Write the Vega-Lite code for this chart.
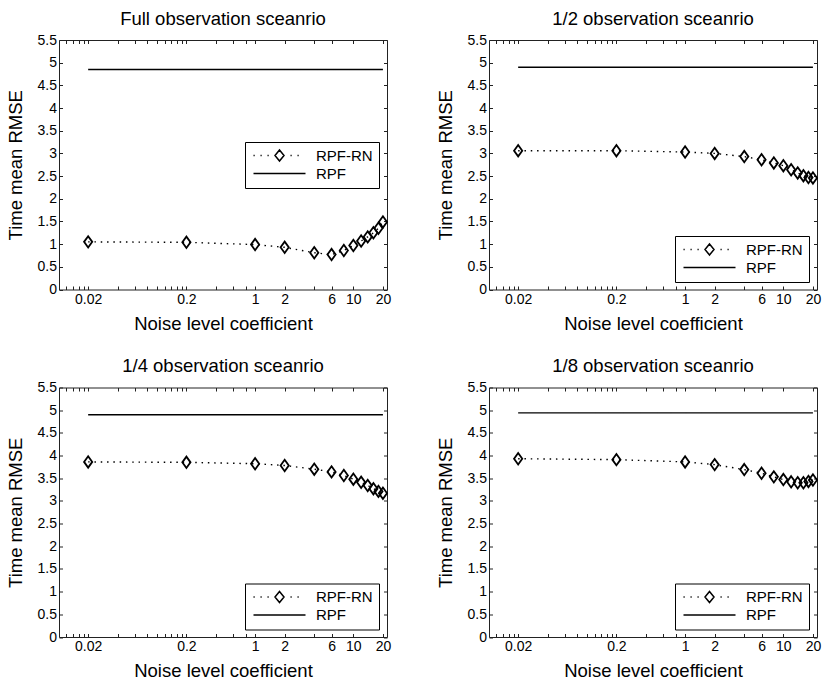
{
  "$schema": "https://vega.github.io/schema/vega-lite/v6.json",
  "background": "white",
  "padding": {"left": 5, "top": 9, "right": 5, "bottom": 5},
  "datasets": {
    "full": [
      {"x": 0.02, "rmse": 1.05, "series": "RPF-RN"},
      {"x": 0.2, "rmse": 1.04, "series": "RPF-RN"},
      {"x": 1, "rmse": 0.99, "series": "RPF-RN"},
      {"x": 2, "rmse": 0.93, "series": "RPF-RN"},
      {"x": 4, "rmse": 0.81, "series": "RPF-RN"},
      {"x": 6, "rmse": 0.77, "series": "RPF-RN"},
      {"x": 8, "rmse": 0.86, "series": "RPF-RN"},
      {"x": 10, "rmse": 0.97, "series": "RPF-RN"},
      {"x": 12, "rmse": 1.07, "series": "RPF-RN"},
      {"x": 14, "rmse": 1.16, "series": "RPF-RN"},
      {"x": 16, "rmse": 1.25, "series": "RPF-RN"},
      {"x": 18, "rmse": 1.35, "series": "RPF-RN"},
      {"x": 20, "rmse": 1.49, "series": "RPF-RN"},
      {"x": 0.02, "rmse": 4.85, "series": "RPF"},
      {"x": 20, "rmse": 4.85, "series": "RPF"}
    ],
    "half": [
      {"x": 0.02, "rmse": 3.06, "series": "RPF-RN"},
      {"x": 0.2, "rmse": 3.06, "series": "RPF-RN"},
      {"x": 1, "rmse": 3.03, "series": "RPF-RN"},
      {"x": 2, "rmse": 3.0, "series": "RPF-RN"},
      {"x": 4, "rmse": 2.93, "series": "RPF-RN"},
      {"x": 6, "rmse": 2.86, "series": "RPF-RN"},
      {"x": 8, "rmse": 2.79, "series": "RPF-RN"},
      {"x": 10, "rmse": 2.73, "series": "RPF-RN"},
      {"x": 12, "rmse": 2.64, "series": "RPF-RN"},
      {"x": 14, "rmse": 2.57, "series": "RPF-RN"},
      {"x": 16, "rmse": 2.51, "series": "RPF-RN"},
      {"x": 18, "rmse": 2.47, "series": "RPF-RN"},
      {"x": 20, "rmse": 2.46, "series": "RPF-RN"},
      {"x": 0.02, "rmse": 4.9, "series": "RPF"},
      {"x": 20, "rmse": 4.9, "series": "RPF"}
    ],
    "quarter": [
      {"x": 0.02, "rmse": 3.86, "series": "RPF-RN"},
      {"x": 0.2, "rmse": 3.85, "series": "RPF-RN"},
      {"x": 1, "rmse": 3.82, "series": "RPF-RN"},
      {"x": 2, "rmse": 3.78, "series": "RPF-RN"},
      {"x": 4, "rmse": 3.7, "series": "RPF-RN"},
      {"x": 6, "rmse": 3.64, "series": "RPF-RN"},
      {"x": 8, "rmse": 3.56, "series": "RPF-RN"},
      {"x": 10, "rmse": 3.48, "series": "RPF-RN"},
      {"x": 12, "rmse": 3.41, "series": "RPF-RN"},
      {"x": 14, "rmse": 3.34, "series": "RPF-RN"},
      {"x": 16, "rmse": 3.27, "series": "RPF-RN"},
      {"x": 18, "rmse": 3.21, "series": "RPF-RN"},
      {"x": 20, "rmse": 3.17, "series": "RPF-RN"},
      {"x": 0.02, "rmse": 4.9, "series": "RPF"},
      {"x": 20, "rmse": 4.9, "series": "RPF"}
    ],
    "eighth": [
      {"x": 0.02, "rmse": 3.93, "series": "RPF-RN"},
      {"x": 0.2, "rmse": 3.91, "series": "RPF-RN"},
      {"x": 1, "rmse": 3.86, "series": "RPF-RN"},
      {"x": 2, "rmse": 3.8, "series": "RPF-RN"},
      {"x": 4, "rmse": 3.69, "series": "RPF-RN"},
      {"x": 6, "rmse": 3.61, "series": "RPF-RN"},
      {"x": 8, "rmse": 3.53, "series": "RPF-RN"},
      {"x": 10, "rmse": 3.47, "series": "RPF-RN"},
      {"x": 12, "rmse": 3.42, "series": "RPF-RN"},
      {"x": 14, "rmse": 3.4, "series": "RPF-RN"},
      {"x": 16, "rmse": 3.4, "series": "RPF-RN"},
      {"x": 18, "rmse": 3.43, "series": "RPF-RN"},
      {"x": 20, "rmse": 3.46, "series": "RPF-RN"},
      {"x": 0.02, "rmse": 4.94, "series": "RPF"},
      {"x": 20, "rmse": 4.94, "series": "RPF"}
    ]
  },
  "columns": 2,
  "bounds": "flush",
  "spacing": {"row": 97.5, "column": 102},
  "resolve": {"scale": {"shape": "independent"}, "legend": {"shape": "independent"}},
  "concat": [
    {
      "title": "Full observation sceanrio",
      "width": 328,
      "height": 249.5,
      "data": {"name": "full"},
      "layer": [
        {
          "mark": {"type": "line", "color": "black", "strokeWidth": 1.4},
          "encoding": {
            "x": {"field": "x", "type": "quantitative", "scale": {"type": "log", "domain": [0.0101, 22], "nice": false},
                  "axis": {"title": "Noise level coefficient", "orient": "bottom", "values": [0.012, 0.014, 0.016, 0.018, 0.02, 0.04, 0.06, 0.08, 0.1, 0.12, 0.14, 0.16, 0.18, 0.2, 0.4, 0.6, 0.8, 1, 2, 4, 6, 10, 20],
                           "labelExpr": "indexof([0.02, 0.2, 1, 2, 6, 10, 20], datum.value) >= 0 ? format(datum.value, '~g') : ''"}},
            "y": {"field": "rmse", "type": "quantitative", "scale": {"domain": [0, 5.5], "nice": false},
                  "axis": {"title": "Time mean RMSE", "orient": "left", "titlePadding": 12, "values": [0, 0.5, 1, 1.5, 2, 2.5, 3, 3.5, 4, 4.5, 5, 5.5], "format": "~g"}},
            "detail": {"field": "series"},
            "strokeDash": {"field": "series", "scale": {"domain": ["RPF-RN", "RPF"], "range": [[1.5, 4.8], [1, 0]]}, "legend": null}
          }
        },
        {
          "transform": [{"filter": "datum.series === 'RPF-RN'"}],
          "mark": {"type": "point", "filled": false, "color": "black", "strokeWidth": 1.8, "size": 130, "opacity": 1, "shape": "M0,-1L0.72,0L0,1L-0.72,0Z"},
          "encoding": {
            "x": {"field": "x", "type": "quantitative", "scale": {"type": "log", "domain": [0.0101, 22], "nice": false},
                  "axis": {"title": null, "orient": "top", "labels": false, "values": [0.012, 0.014, 0.016, 0.018, 0.02, 0.04, 0.06, 0.08, 0.1, 0.12, 0.14, 0.16, 0.18, 0.2, 0.4, 0.6, 0.8, 1, 2, 4, 6, 10, 20]}},
            "y": {"field": "rmse", "type": "quantitative", "scale": {"domain": [0, 5.5], "nice": false},
                  "axis": {"title": null, "orient": "right", "labels": false, "values": [0, 0.5, 1, 1.5, 2, 2.5, 3, 3.5, 4, 4.5, 5, 5.5]}}
          }
        },
        {
          "transform": [{"filter": "false"}],
          "mark": {"type": "point", "filled": false, "color": "black", "opacity": 1},
          "encoding": {
            "shape": {"field": "series", "scale": {"domain": ["RPF-RN", "RPF"], "range": ["M-1,0h0.24M0.4,0h0.24M1.8,0h0.24M6.4,0h0.24M7.8,0h0.24M4.2,-1.1L5.1,0L4.2,1.1L3.3,0Z", "M-1,0L9.4,0"]},
                      "legend": {"orient": "none", "legendX": 186, "legendY": 102}}
          }
        }
      ],
      "resolve": {"axis": {"x": "independent", "y": "independent"}}
    },
    {
      "title": "1/2 observation sceanrio",
      "width": 328,
      "height": 249.5,
      "data": {"name": "half"},
      "layer": [
        {
          "mark": {"type": "line", "color": "black", "strokeWidth": 1.4},
          "encoding": {
            "x": {"field": "x", "type": "quantitative", "scale": {"type": "log", "domain": [0.0101, 22], "nice": false},
                  "axis": {"title": "Noise level coefficient", "orient": "bottom", "values": [0.012, 0.014, 0.016, 0.018, 0.02, 0.04, 0.06, 0.08, 0.1, 0.12, 0.14, 0.16, 0.18, 0.2, 0.4, 0.6, 0.8, 1, 2, 4, 6, 10, 20],
                           "labelExpr": "indexof([0.02, 0.2, 1, 2, 6, 10, 20], datum.value) >= 0 ? format(datum.value, '~g') : ''"}},
            "y": {"field": "rmse", "type": "quantitative", "scale": {"domain": [0, 5.5], "nice": false},
                  "axis": {"title": "Time mean RMSE", "orient": "left", "titlePadding": 12, "values": [0, 0.5, 1, 1.5, 2, 2.5, 3, 3.5, 4, 4.5, 5, 5.5], "format": "~g"}},
            "detail": {"field": "series"},
            "strokeDash": {"field": "series", "scale": {"domain": ["RPF-RN", "RPF"], "range": [[1.5, 4.8], [1, 0]]}, "legend": null}
          }
        },
        {
          "transform": [{"filter": "datum.series === 'RPF-RN'"}],
          "mark": {"type": "point", "filled": false, "color": "black", "strokeWidth": 1.8, "size": 130, "opacity": 1, "shape": "M0,-1L0.72,0L0,1L-0.72,0Z"},
          "encoding": {
            "x": {"field": "x", "type": "quantitative", "scale": {"type": "log", "domain": [0.0101, 22], "nice": false},
                  "axis": {"title": null, "orient": "top", "labels": false, "values": [0.012, 0.014, 0.016, 0.018, 0.02, 0.04, 0.06, 0.08, 0.1, 0.12, 0.14, 0.16, 0.18, 0.2, 0.4, 0.6, 0.8, 1, 2, 4, 6, 10, 20]}},
            "y": {"field": "rmse", "type": "quantitative", "scale": {"domain": [0, 5.5], "nice": false},
                  "axis": {"title": null, "orient": "right", "labels": false, "values": [0, 0.5, 1, 1.5, 2, 2.5, 3, 3.5, 4, 4.5, 5, 5.5]}}
          }
        },
        {
          "transform": [{"filter": "false"}],
          "mark": {"type": "point", "filled": false, "color": "black", "opacity": 1},
          "encoding": {
            "shape": {"field": "series", "scale": {"domain": ["RPF-RN", "RPF"], "range": ["M-1,0h0.24M0.4,0h0.24M1.8,0h0.24M6.4,0h0.24M7.8,0h0.24M4.2,-1.1L5.1,0L4.2,1.1L3.3,0Z", "M-1,0L9.4,0"]},
                      "legend": {"orient": "bottom-right", "offset": 8}}
          }
        }
      ],
      "resolve": {"axis": {"x": "independent", "y": "independent"}}
    },
    {
      "title": "1/4 observation sceanrio",
      "width": 328,
      "height": 249.5,
      "data": {"name": "quarter"},
      "layer": [
        {
          "mark": {"type": "line", "color": "black", "strokeWidth": 1.4},
          "encoding": {
            "x": {"field": "x", "type": "quantitative", "scale": {"type": "log", "domain": [0.0101, 22], "nice": false},
                  "axis": {"title": "Noise level coefficient", "orient": "bottom", "values": [0.012, 0.014, 0.016, 0.018, 0.02, 0.04, 0.06, 0.08, 0.1, 0.12, 0.14, 0.16, 0.18, 0.2, 0.4, 0.6, 0.8, 1, 2, 4, 6, 10, 20],
                           "labelExpr": "indexof([0.02, 0.2, 1, 2, 6, 10, 20], datum.value) >= 0 ? format(datum.value, '~g') : ''"}},
            "y": {"field": "rmse", "type": "quantitative", "scale": {"domain": [0, 5.5], "nice": false},
                  "axis": {"title": "Time mean RMSE", "orient": "left", "titlePadding": 12, "values": [0, 0.5, 1, 1.5, 2, 2.5, 3, 3.5, 4, 4.5, 5, 5.5], "format": "~g"}},
            "detail": {"field": "series"},
            "strokeDash": {"field": "series", "scale": {"domain": ["RPF-RN", "RPF"], "range": [[1.5, 4.8], [1, 0]]}, "legend": null}
          }
        },
        {
          "transform": [{"filter": "datum.series === 'RPF-RN'"}],
          "mark": {"type": "point", "filled": false, "color": "black", "strokeWidth": 1.8, "size": 130, "opacity": 1, "shape": "M0,-1L0.72,0L0,1L-0.72,0Z"},
          "encoding": {
            "x": {"field": "x", "type": "quantitative", "scale": {"type": "log", "domain": [0.0101, 22], "nice": false},
                  "axis": {"title": null, "orient": "top", "labels": false, "values": [0.012, 0.014, 0.016, 0.018, 0.02, 0.04, 0.06, 0.08, 0.1, 0.12, 0.14, 0.16, 0.18, 0.2, 0.4, 0.6, 0.8, 1, 2, 4, 6, 10, 20]}},
            "y": {"field": "rmse", "type": "quantitative", "scale": {"domain": [0, 5.5], "nice": false},
                  "axis": {"title": null, "orient": "right", "labels": false, "values": [0, 0.5, 1, 1.5, 2, 2.5, 3, 3.5, 4, 4.5, 5, 5.5]}}
          }
        },
        {
          "transform": [{"filter": "false"}],
          "mark": {"type": "point", "filled": false, "color": "black", "opacity": 1},
          "encoding": {
            "shape": {"field": "series", "scale": {"domain": ["RPF-RN", "RPF"], "range": ["M-1,0h0.24M0.4,0h0.24M1.8,0h0.24M6.4,0h0.24M7.8,0h0.24M4.2,-1.1L5.1,0L4.2,1.1L3.3,0Z", "M-1,0L9.4,0"]},
                      "legend": {"orient": "bottom-right", "offset": 8}}
          }
        }
      ],
      "resolve": {"axis": {"x": "independent", "y": "independent"}}
    },
    {
      "title": "1/8 observation sceanrio",
      "width": 328,
      "height": 249.5,
      "data": {"name": "eighth"},
      "layer": [
        {
          "mark": {"type": "line", "color": "black", "strokeWidth": 1.4},
          "encoding": {
            "x": {"field": "x", "type": "quantitative", "scale": {"type": "log", "domain": [0.0101, 22], "nice": false},
                  "axis": {"title": "Noise level coefficient", "orient": "bottom", "values": [0.012, 0.014, 0.016, 0.018, 0.02, 0.04, 0.06, 0.08, 0.1, 0.12, 0.14, 0.16, 0.18, 0.2, 0.4, 0.6, 0.8, 1, 2, 4, 6, 10, 20],
                           "labelExpr": "indexof([0.02, 0.2, 1, 2, 6, 10, 20], datum.value) >= 0 ? format(datum.value, '~g') : ''"}},
            "y": {"field": "rmse", "type": "quantitative", "scale": {"domain": [0, 5.5], "nice": false},
                  "axis": {"title": "Time mean RMSE", "orient": "left", "titlePadding": 12, "values": [0, 0.5, 1, 1.5, 2, 2.5, 3, 3.5, 4, 4.5, 5, 5.5], "format": "~g"}},
            "detail": {"field": "series"},
            "strokeDash": {"field": "series", "scale": {"domain": ["RPF-RN", "RPF"], "range": [[1.5, 4.8], [1, 0]]}, "legend": null}
          }
        },
        {
          "transform": [{"filter": "datum.series === 'RPF-RN'"}],
          "mark": {"type": "point", "filled": false, "color": "black", "strokeWidth": 1.8, "size": 130, "opacity": 1, "shape": "M0,-1L0.72,0L0,1L-0.72,0Z"},
          "encoding": {
            "x": {"field": "x", "type": "quantitative", "scale": {"type": "log", "domain": [0.0101, 22], "nice": false},
                  "axis": {"title": null, "orient": "top", "labels": false, "values": [0.012, 0.014, 0.016, 0.018, 0.02, 0.04, 0.06, 0.08, 0.1, 0.12, 0.14, 0.16, 0.18, 0.2, 0.4, 0.6, 0.8, 1, 2, 4, 6, 10, 20]}},
            "y": {"field": "rmse", "type": "quantitative", "scale": {"domain": [0, 5.5], "nice": false},
                  "axis": {"title": null, "orient": "right", "labels": false, "values": [0, 0.5, 1, 1.5, 2, 2.5, 3, 3.5, 4, 4.5, 5, 5.5]}}
          }
        },
        {
          "transform": [{"filter": "false"}],
          "mark": {"type": "point", "filled": false, "color": "black", "opacity": 1},
          "encoding": {
            "shape": {"field": "series", "scale": {"domain": ["RPF-RN", "RPF"], "range": ["M-1,0h0.24M0.4,0h0.24M1.8,0h0.24M6.4,0h0.24M7.8,0h0.24M4.2,-1.1L5.1,0L4.2,1.1L3.3,0Z", "M-1,0L9.4,0"]},
                      "legend": {"orient": "bottom-right", "offset": 8}}
          }
        }
      ],
      "resolve": {"axis": {"x": "independent", "y": "independent"}}
    }
  ],
  "config": {
    "font": "Liberation Sans",
    "view": {"stroke": "#222", "strokeWidth": 1},
    "title": {"fontSize": 18.5, "fontWeight": "normal", "color": "black", "offset": 5},
    "axis": {
      "labelFontSize": 14, "titleFontSize": 18.5, "titleFontWeight": "normal",
      "labelColor": "black", "titleColor": "black", "tickColor": "#222",
      "domain": false, "grid": false, "tickSize": -3.5, "labelPadding": 6,
      "labelFlush": false, "labelOverlap": false, "labelBound": false, "titlePadding": 8
    },
    "legend": {
      "title": null, "strokeColor": "black", "fillColor": "white", "padding": 6,
      "labelFontSize": 15, "labelColor": "black", "labelFont": "Liberation Sans",
      "symbolSize": 100, "symbolStrokeWidth": 1.5, "symbolStrokeColor": "black", "symbolFillColor": "transparent",
      "labelOffset": 50, "rowPadding": 2
    }
  }
}
